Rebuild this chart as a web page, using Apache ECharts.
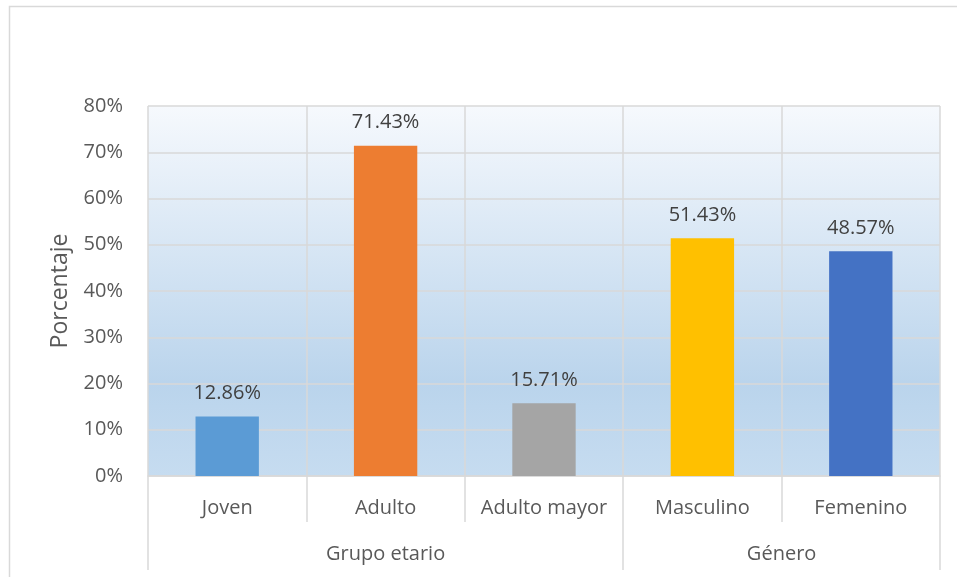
<!DOCTYPE html>
<html>
<head>
<meta charset="utf-8">
<script src="https://cdn.jsdelivr.net/npm/echarts@6/dist/echarts.min.js"></script>
<style>
  html, body { margin: 0; padding: 0; background: #fff; }
  #chart { width: 957px; height: 577px; }
</style>
</head>
<body>
<div id="chart"></div>
<script>
// datos
const categorias = ['Joven', 'Adulto', 'Adulto mayor', 'Masculino', 'Femenino']
const valores = [0.1286, 0.7143, 0.1571, 0.5143, 0.4857]
const colores = ['#5B9BD5', '#ED7D31', '#A5A5A5', '#FFC000', '#4472C4']
const grupos = ['Grupo etario', 'Género']
const grupoCentros = [1.5, 4]
const grupoLimites = [0, 3, 5]
const limitesInternos = [1, 2, 4]

const fuente = '"Open Sans", "Noto Sans", sans-serif'
const gris = '#d9d9d9'

const chart = echarts.init(document.getElementById('chart'))

const option = {
  animation: false,
  textStyle: { fontFamily: fuente },
  graphic: [{
    type: 'rect',
    shape: { x: 9.5, y: 6.5, width: 980, height: 620 },
    style: { fill: 'none', stroke: gris, lineWidth: 1.5 },
    silent: true
  }],
  grid: {
    left: 148,
    right: 17,
    top: 106,
    bottom: 101,
    show: true,
    borderWidth: 0,
    backgroundColor: new echarts.graphic.LinearGradient(0, 0, 0, 1, [
      { offset: 0, color: '#f6f9fd' },
      { offset: 0.75, color: '#bad4ec' },
      { offset: 1, color: '#c6dcf0' }
    ])
  },
  xAxis: [
    {
      type: 'category',
      data: categorias,
      axisLine: { lineStyle: { color: gris, width: 1.5 } },
      axisTick: { alignWithLabel: true, interval: 0, length: 5, lineStyle: { color: gris, width: 1.5 } },
      axisLabel: { interval: 0, hideOverlap: false, color: '#595959', fontSize: 20, margin: 22, fontFamily: fuente },
      splitLine: { show: true, interval: 0, lineStyle: { color: gris, width: 1.5 } }
    },
    {
      type: 'value',
      min: 0,
      max: 5,
      position: 'bottom',
      axisLine: { show: false },
      splitLine: { show: false },
      axisTick: { show: true, customValues: limitesInternos, length: 46, lineStyle: { color: gris, width: 1.5 } },
      axisLabel: { show: false }
    },
    {
      type: 'value',
      min: 0,
      max: 5,
      position: 'bottom',
      axisLine: { show: false },
      splitLine: { show: false },
      axisTick: { show: true, customValues: grupoLimites, length: 94, lineStyle: { color: gris, width: 1.5 } },
      axisLabel: {
        show: true,
        customValues: grupoCentros,
        margin: 68,
        color: '#595959',
        fontSize: 20,
        fontFamily: fuente,
        formatter: function (v) {
          const i = grupoCentros.indexOf(v)
          return i >= 0 ? grupos[i] : ''
        }
      }
    }
  ],
  yAxis: {
    type: 'value',
    min: 0,
    max: 0.8,
    interval: 0.1,
    name: 'Porcentaje',
    nameLocation: 'middle',
    nameGap: 76,
    nameTextStyle: { color: '#595959', fontSize: 23, fontFamily: fuente },
    axisLine: { show: false },
    axisTick: { show: false },
    axisLabel: {
      color: '#595959',
      fontSize: 20,
      margin: 25,
      fontFamily: fuente,
      formatter: function (v) { return Math.round(v * 100) + '%' }
    },
    splitLine: { lineStyle: { color: gris, width: 1.5 } }
  },
  series: [{
    type: 'bar',
    xAxisIndex: 0,
    barWidth: '40%',
    data: valores.map(function (v, i) {
      return { value: v, itemStyle: { color: colores[i] } }
    }),
    label: {
      show: true,
      position: 'top',
      distance: 13,
      color: '#404040',
      fontSize: 20,
      fontFamily: fuente,
      formatter: function (p) { return (p.value * 100).toFixed(2) + '%' }
    }
  }]
}

chart.setOption(option)
</script>
</body>
</html>
